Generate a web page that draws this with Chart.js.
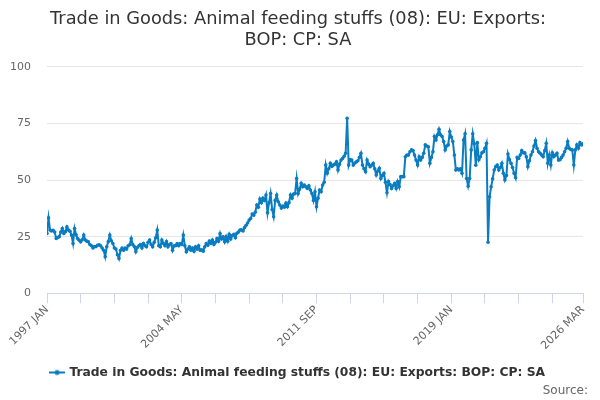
<!DOCTYPE html>
<html>
<head>
<meta charset="utf-8">
<title>Animal feeding stuffs exports</title>
<script src="https://cdn.jsdelivr.net/npm/chart.js@4.4.1/dist/chart.umd.min.js"></script>
<style>
  html, body { margin: 0; padding: 0; background: #fff; }
  #wrap { width: 600px; height: 400px; }
</style>
</head>
<body>
<div id="wrap"><canvas id="chart"></canvas></div>
<script>
const seriesName = 'Trade in Goods: Animal feeding stuffs (08): EU: Exports: BOP: CP: SA';
const titleLines = ['Trade in Goods: Animal feeding stuffs (08): EU: Exports:', 'BOP: CP: SA'];
const monthNames = ['JAN', 'FEB', 'MAR', 'APR', 'MAY', 'JUN', 'JUL', 'AUG', 'SEP', 'OCT', 'NOV', 'DEC'];
const firstYear = 1997;
const tickLabels = ['1997 JAN', '2004 MAY', '2011 SEP', '2019 JAN', '2026 MAR'];
const yTicks = [0, 25, 50, 75, 100];

// monthly values, one row per year (1997 .. 2026 MAR)
const values = [
    26.4, 33.3, 27.9, 27.5, 27.8, 27.0, 24.2, 24.6, 25.0, 27.0, 28.6, 26.4,
    27.2, 29.3, 27.9, 27.4, 25.7, 22.0, 28.6, 25.8, 24.2, 23.4, 22.7, 23.6,
    25.7, 23.5, 23.0, 22.7, 21.5, 21.0, 20.0, 20.6, 20.6, 21.2, 21.4, 21.0,
    20.0, 19.0, 16.1, 20.5, 22.8, 25.7, 23.2, 22.0, 20.0, 19.5, 17.0, 15.3,
    19.0, 20.0, 19.0, 20.0, 19.5, 21.0, 21.4, 24.2, 21.5, 20.6, 18.3, 20.2,
    21.0, 21.5, 20.0, 22.0, 21.0, 20.5, 22.5, 23.5, 21.5, 20.5, 22.5, 24.5,
    27.9, 21.0, 20.5, 23.5, 22.0, 21.0, 22.8, 20.5, 21.5, 22.0, 19.0, 21.0,
    21.0, 22.0, 21.0, 22.0, 21.5, 25.7, 21.0, 18.3, 19.5, 20.5, 19.0, 20.0,
    18.5, 20.5, 19.5, 21.0, 19.0, 19.2, 18.6, 20.5, 22.0, 21.2, 23.0, 22.0,
    23.5, 21.5, 22.5, 24.2, 23.0, 26.4, 24.0, 24.9, 22.7, 25.0, 23.0, 26.0,
    24.0, 25.5, 26.0, 24.5, 26.5, 27.0, 27.9, 28.0, 27.5, 29.0, 30.0, 31.0,
    32.3, 33.0, 35.0, 34.5, 35.8, 39.0, 38.0, 41.6, 40.0, 42.0, 41.0, 43.4,
    35.5, 40.0, 44.0, 37.0, 33.8, 41.0, 43.4, 40.4, 39.0, 37.6, 38.5, 38.0,
    39.8, 38.2, 40.0, 43.4, 42.0, 43.8, 44.0, 50.7, 44.0, 46.0, 48.5, 47.0,
    47.8, 47.0, 46.3, 47.5, 45.6, 44.0, 41.0, 44.8, 38.2, 42.0, 45.6, 44.8,
    47.8, 49.0, 56.6, 53.0, 55.0, 57.4, 56.0, 56.6, 57.0, 58.0, 54.4, 57.0,
    58.8, 59.5, 60.5, 61.8, 77.3, 56.6, 59.0, 58.8, 56.6, 57.5, 58.0, 58.5,
    60.0, 61.8, 56.6, 55.0, 53.7, 58.8, 57.0, 55.9, 56.5, 57.4, 55.0, 52.2,
    54.0, 55.2, 50.7, 52.0, 53.0, 49.0, 44.4, 49.3, 48.0, 46.3, 47.5, 48.5,
    46.3, 49.3, 47.0, 51.5, 51.5, 51.5, 60.3, 61.0, 61.0, 62.5, 63.3, 63.0,
    61.0, 58.8, 56.6, 60.3, 58.8, 60.0, 61.8, 65.5, 65.0, 64.7, 57.4, 60.0,
    62.5, 69.2, 67.7, 70.0, 72.4, 70.0, 69.2, 67.0, 63.3, 65.0, 65.5, 71.4,
    69.0, 67.0, 61.0, 54.4, 55.0, 54.4, 55.0, 53.0, 67.7, 70.4, 50.7, 47.3,
    50.7, 63.3, 70.4, 66.0, 56.5, 66.5, 59.0, 60.3, 62.0, 62.5, 64.0, 66.2,
    22.5, 42.6, 47.0, 50.5, 54.4, 55.9, 56.6, 54.4, 55.5, 57.4, 53.0, 50.0,
    52.0, 61.5, 59.0, 57.4, 55.5, 53.0, 51.0, 60.0, 59.5, 61.0, 63.0, 62.0,
    62.0, 60.3, 55.9, 58.5, 61.0, 62.5, 65.0, 67.4, 64.0, 62.5, 61.8, 61.0,
    60.3, 63.0, 66.2, 57.4, 61.0, 56.6, 62.0, 60.3, 61.0, 61.8, 58.8, 59.0,
    60.0, 61.0, 62.5, 64.0, 67.0, 64.0, 63.5, 63.3, 56.6, 63.3, 65.5, 64.0,
    66.5, 65.5, 66.0
];

const categories = values.map((v, i) => (firstYear + Math.floor(i / 12)) + ' ' + monthNames[i % 12]);

const lineColor = '#0a7cc1';
const axisColor = '#ccd6eb';
const gridColor = '#e6e6e6';
const textColor = '#666666';
const fontFamily = "'DejaVu Sans', sans-serif";

Chart.defaults.font.family = fontFamily;

// legend symbol: short line with a dot, like the series
function legendMarker() {
    let c = document.createElement('canvas');
    c.width = 16;
    c.height = 10;
    let g = c.getContext('2d');
    g.strokeStyle = lineColor;
    g.lineWidth = 2;
    g.beginPath();
    g.moveTo(0, 5);
    g.lineTo(16, 5);
    g.stroke();
    g.fillStyle = lineColor;
    g.beginPath();
    g.arc(8, 5, 2.5, 0, Math.PI * 2);
    g.fill();
    return c;
}

const labelIndex = tickLabels.map(t => categories.indexOf(t));
const lastIndex = categories.length - 1;

new Chart(document.getElementById('chart'), {
    type: 'line',
    data: {
        datasets: [{
            label: seriesName,
            data: values.map((v, i) => ({ x: i, y: v })),
            borderColor: lineColor,
            backgroundColor: lineColor,
            borderWidth: 2,
            pointRadius: 1.8,
            pointBorderWidth: 0,
            pointHoverRadius: 3,
            tension: 0
        }]
    },
    options: {
        responsive: true,
        maintainAspectRatio: false,
        animation: false,
        layout: { padding: { left: 8, right: 12, top: 0, bottom: 0 } },
        plugins: {
            title: {
                display: true,
                text: titleLines,
                color: '#333333',
                font: { family: fontFamily, size: 17.8, weight: 'normal', lineHeight: 1.23 },
                padding: { top: 8, bottom: 15 }
            },
            subtitle: {
                display: true,
                position: 'bottom',
                align: 'end',
                text: 'Source:',
                color: textColor,
                font: { family: fontFamily, size: 12 },
                padding: { top: -5, bottom: 2 }
            },
            legend: {
                position: 'bottom',
                labels: {
                    usePointStyle: true,
                    pointStyle: legendMarker(),
                    color: '#333333',
                    font: { family: fontFamily, size: 12.3, weight: 'bold' },
                    padding: 10
                }
            },
            tooltip: { enabled: true }
        },
        scales: {
            x: {
                type: 'linear',
                min: 0,
                max: lastIndex,
                afterBuildTicks: axis => {
                    let ticks = [];
                    for (let i = 0; i < lastIndex; i += 22) ticks.push({ value: i });
                    ticks.push({ value: lastIndex });
                    axis.ticks = ticks;
                },
                afterFit: axis => {
                    axis.paddingLeft = 0;
                    axis.paddingRight = 17;
                    axis.height += 4;
                },
                ticks: {
                    autoSkip: false,
                    maxRotation: 45,
                    minRotation: 45,
                    color: textColor,
                    font: { family: fontFamily, size: 11 },
                    padding: 0,
                    callback: value => labelIndex.includes(value) ? categories[value] : ''
                },
                grid: {
                    drawOnChartArea: false,
                    color: axisColor,
                    tickLength: 10
                },
                border: { color: axisColor, width: 1 }
            },
            y: {
                min: 0,
                max: 100,
                afterBuildTicks: axis => { axis.ticks = yTicks.map(v => ({ value: v })); },
                afterFit: axis => { axis.width = 39; },
                ticks: {
                    color: textColor,
                    font: { family: fontFamily, size: 11 },
                    padding: 16
                },
                grid: {
                    color: gridColor,
                    drawTicks: false
                },
                border: { display: false }
            }
        }
    }
});
</script>
</body>
</html>
